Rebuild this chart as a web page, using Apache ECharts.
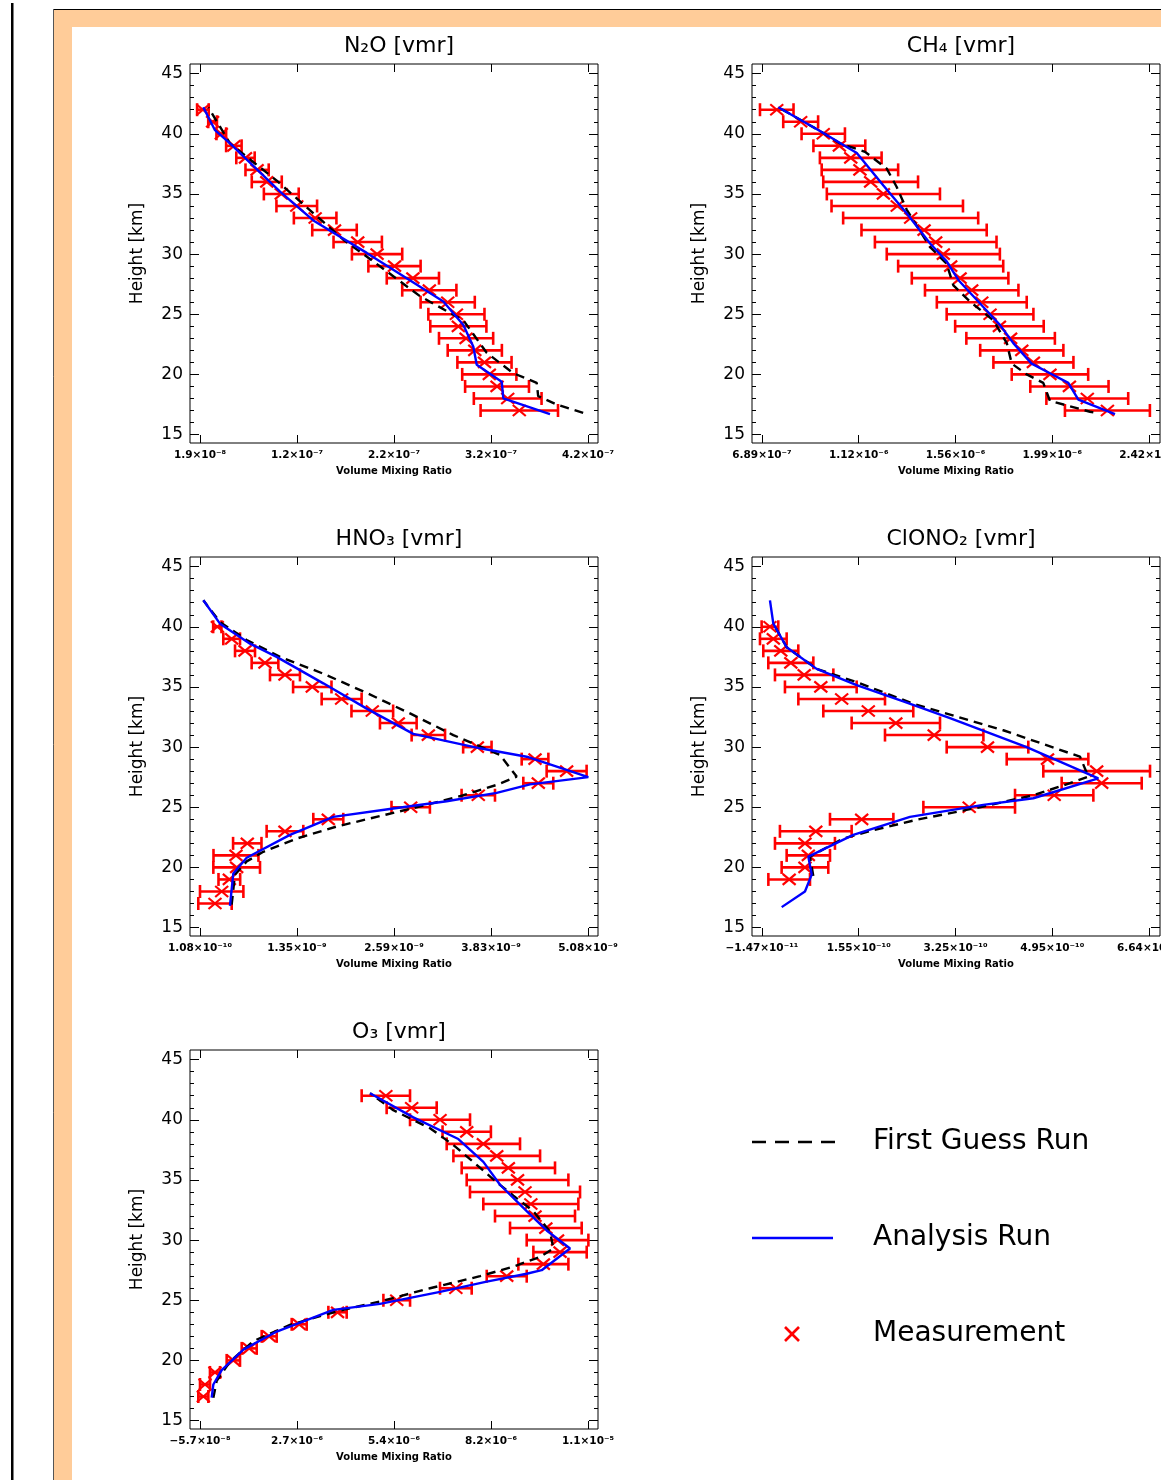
<!DOCTYPE html>
<html><head><meta charset="utf-8">
<script src="https://cdn.jsdelivr.net/npm/echarts@6/dist/echarts.min.js"></script>
<style>html,body{margin:0;padding:0;background:#fff;}#c{width:1161px;height:1480px;}</style>
</head><body><div id="c"></div>
<script>
// ---------------- DATA (values in units of 1e-9 vmr, heights in km) ----------------
const panelTitles = ['N₂O [vmr]', 'CH₄ [vmr]', 'HNO₃ [vmr]', 'ClONO₂ [vmr]', 'O₃ [vmr]'];
const yTicks = [15, 20, 25, 30, 35, 40, 45];
const yMinorTicks = [15,16,17,18,19,20,21,22,23,24,25,26,27,28,29,30,31,32,33,34,35,36,37,38,39,40,41,42,43,44,45];

const tickN2O = [19, 119.25, 219.5, 319.75, 420];
const labelN2O = ['1.9×10⁻⁸', '1.2×10⁻⁷', '2.2×10⁻⁷', '3.2×10⁻⁷', '4.2×10⁻⁷'];
const tickCH4 = [689, 1121.75, 1554.5, 1987.25, 2420];
const labelCH4 = ['6.89×10⁻⁷', '1.12×10⁻⁶', '1.56×10⁻⁶', '1.99×10⁻⁶', '2.42×10⁻⁶'];
const tickHNO3 = [0.108, 1.351, 2.594, 3.837, 5.08];
const labelHNO3 = ['1.08×10⁻¹⁰', '1.35×10⁻⁹', '2.59×10⁻⁹', '3.83×10⁻⁹', '5.08×10⁻⁹'];
const tickClONO2 = [-0.0147, 0.155, 0.3247, 0.4944, 0.6642];
const labelClONO2 = ['−1.47×10⁻¹¹', '1.55×10⁻¹⁰', '3.25×10⁻¹⁰', '4.95×10⁻¹⁰', '6.64×10⁻¹⁰'];
const tickO3 = [-57, 2707, 5471, 8236, 11000];
const labelO3 = ['−5.7×10⁻⁸', '2.7×10⁻⁶', '5.4×10⁻⁶', '8.2×10⁻⁶', '1.1×10⁻⁵'];

// N2O
const hN2O = [17,18,19,20,21,22,23,24,25,26,27,28,29,30,31,32,33,34,35,36,37,38,39,40,41,42];
const measN2O = [349,337,326,318,313,303,294,286,284,275,256,239,220,202,182,158,138,119,103,88,78,66,54,41,32,22];
const errN2O = [40,35,33,28,28,28,28,29,29,28,28,27,27,26,25,23,22,21,18,15.5,12,9.5,8,5,4.5,6];
const anN2O = [[380.7,16.7],[332.5,18.0],[330.8,19.4],[305,20.8],[301.5,22.3],[291.2,24.1],[270.5,26.06],[232.6,28.0],[191.3,30.1],[136.1,32.8],[101.7,35.2],[50,39.2],[34.5,40.3],[22.4,42.2]];
const fgN2O = [[415,16.8],[387.6,17.5],[368.5,18.2],[367,19.3],[342.8,20.1],[315.3,21.8],[291.2,24.5],[246.4,26.5],[194.7,29.6],[167.1,31.2],[98.3,36.1],[50,39.2],[27.6,42.2]];

// CH4
const hCH4 = [17,18,19,20,21,22,23,24,25,26,27,28,29,30,31,32,33,34,35,36,37,38,39,40,41,42];
const measCH4 = [2234,2144,2064,1977,1903,1851,1801,1751,1709,1672,1627,1575,1533,1500,1466,1414,1354,1294,1232,1175,1127,1086,1035,963,862,755];
const errCH4 = [190,183,175,171,179,186,198,198,194,201,209,216,235,253,272,280,302,294,253,212,171,138,116,97,78,75];
const anCH4 = [[2268,16.7],[2104,17.9],[2059,19.3],[1977,20.1],[1895,20.9],[1813,22.6],[1754,24.1],[1679,25.6],[1567,27.85],[1515,29.4],[1440,30.9],[1336,33.4],[1232,35.7],[1113,38.4],[956,40.15],[762,42.2]];
const fgCH4 = [[2171,16.85],[2156,16.9],[2067,17.35],[1977,17.8],[1947,19.3],[1873,20.0],[1806,20.9],[1784,22.6],[1724,24.5],[1619,26.05],[1545,27.4],[1515,29.2],[1440,30.6],[1336,33.7],[1291,35.6],[1247,37.1],[1150,38.5],[1038,39.2],[956,40.15],[762,42.2]];

// HNO3
const hHNO3 = [17,18,19,20,21,22,23,24,25,26,27,28,29,30,31,32,33,34,35,36,37,38,39,40];
const measHNO3 = [0.300,0.386,0.484,0.578,0.569,0.714,1.197,1.752,2.808,3.674,4.443,4.806,4.401,3.662,3.034,2.649,2.316,1.923,1.547,1.197,0.941,0.685,0.514,0.330];
const errHNO3 = [0.214,0.278,0.139,0.299,0.288,0.182,0.235,0.192,0.246,0.214,0.192,0.256,0.171,0.182,0.214,0.235,0.267,0.256,0.246,0.192,0.171,0.128,0.107,0.053];
const anHNO3 = [[0.492,16.8],[0.535,19.5],[0.706,20.8],[1.261,22.7],[1.816,24.2],[2.585,24.9],[3.269,25.5],[3.910,26.2],[4.337,26.9],[5.084,27.5],[4.294,29.2],[3.696,29.9],[2.841,31.1],[2.244,33.2],[1.688,35.3],[1.090,37.5],[0.749,38.6],[0.364,40.26],[0.151,42.2]];
const fgHNO3 = [[0.514,16.9],[0.556,19.4],[0.706,20.5],[0.919,21.3],[1.347,22.4],[1.860,23.4],[2.500,24.4],[3.013,25.2],[3.482,26.0],[3.910,26.86],[4.166,27.55],[3.952,29.35],[3.354,31.0],[2.799,32.8],[2.244,34.5],[1.688,36.1],[1.133,37.5],[0.706,38.9],[0.364,40.4],[0.151,42.2]];

// ClONO2
const hClONO2 = [19,20,21,22,23,24,25,26,27,28,29,30,31,32,33,34,35,36,37,38,39,40];
const measClONO2 = [0.0330,0.0607,0.0666,0.0607,0.0797,0.1602,0.3488,0.4979,0.5812,0.5724,0.4862,0.3809,0.2874,0.2201,0.1718,0.1251,0.0885,0.0593,0.0359,0.0183,0.0052,-0.0007];
const errClONO2 = [0.0365,0.0409,0.0380,0.0526,0.0629,0.0556,0.0804,0.0687,0.0702,0.0936,0.0716,0.0716,0.0863,0.0775,0.0789,0.0760,0.0629,0.0512,0.0395,0.0307,0.0234,0.0146];
const anClONO2 = [[0.0199,16.7],[0.0607,18.0],[0.0725,19.4],[0.0666,20.9],[0.1455,22.7],[0.2449,24.2],[0.3735,25.2],[0.4613,25.75],[0.5753,27.4],[0.4496,30.0],[0.3151,32.4],[0.2332,33.8],[0.1514,35.15],[0.0812,36.5],[0.0286,38.3],[0.0052,40.26],[-0.0007,42.2]];
const fgClONO2 = [[0.0753,19.3],[0.0695,20.9],[0.1279,22.4],[0.1806,23.1],[0.2567,23.96],[0.3735,25.06],[0.4613,26.0],[0.5256,27.0],[0.5578,27.55],[0.5432,29.2],[0.4086,31.4],[0.2507,33.6],[0.1572,35.3],[0.0812,36.5],[0.0286,38.3],[0.0052,40.26]];

// O3
const hO3 = [17,18,19,20,21,22,23,24,25,26,27,28,29,30,31,32,33,34,35,36,37,38,39,40,41,42];
const measO3 = [38,86,370,893,1345,1915,2770,3862,5549,7234,8684,9728,10203,10132,9799,9490,9371,9205,8992,8730,8399,8018,7544,6783,5975,5239];
const errO3 = [143,143,143,190,214,214,214,261,380,451,570,713,760,879,1021,1140,1354,1568,1449,1330,1235,1045,689,855,713,689];
const anO3 = [[276,16.9],[323,18.0],[561,19.2],[1178,20.9],[2129,22.4],[3742,24.2],[5073,24.7],[6783,25.7],[8114,26.55],[9253,27.2],[9681,27.5],[10488,29.3],[9823,30.8],[9253,32.4],[8493,34.6],[8018,36.5],[7305,38.4],[6022,40.2],[4788,42.2]];
const fgO3 = [[323,16.9],[419,18.3],[798,19.9],[1462,21.6],[2508,22.96],[3839,24.07],[5073,24.9],[6498,26.0],[7923,27.0],[8873,27.8],[9633,28.6],[10012,29.3],[9918,30.7],[9443,32.4],[8873,33.7],[8399,34.8],[7732,36.5],[7162,37.9],[6498,39.3],[5452,40.8],[4788,42.2]];

const legendNames = ['First Guess Run', 'Analysis Run', 'Measurement'];

// ---------------- LAYOUT ----------------
const FONT = "'DejaVu Sans', sans-serif";
const GW = 408, GH = 379, YMIN = 14.3, YMAX = 45.8;
const panels = [
  {left:190, top:64,   min:8.66,   max:430.34, ticks:tickN2O,    labels:labelN2O,    h:hN2O,    meas:measN2O,    err:errN2O,    an:anN2O,    fg:fgN2O},
  {left:752, top:64,   min:644.3,  max:2469.2, ticks:tickCH4,    labels:labelCH4,    h:hCH4,    meas:measCH4,    err:errCH4,    an:anCH4,    fg:fgCH4},
  {left:190, top:557,  min:-0.020, max:5.208,  ticks:tickHNO3,   labels:labelHNO3,   h:hHNO3,   meas:measHNO3,   err:errHNO3,   an:anHNO3,   fg:fgHNO3},
  {left:752, top:557,  min:-0.0322,max:0.6835, ticks:tickClONO2, labels:labelClONO2, h:hClONO2, meas:measClONO2, err:errClONO2, an:anClONO2, fg:fgClONO2},
  {left:190, top:1050, min:-342,   max:11285,  ticks:tickO3,     labels:labelO3,     h:hO3,     meas:measO3,     err:errO3,     an:anO3,     fg:fgO3}
];

const noLine = {show:false, onZero:false};
const grids = [], xAxes = [], yAxes = [], series = [], titles = [];
panels.forEach((p, i) => {
  grids.push({left:p.left, top:p.top, width:GW, height:GH, show:true, borderColor:'#000', borderWidth:1,
              backgroundColor:'transparent', containLabel:false, outerBoundsMode:'none'});
  titles.push({text: panelTitles[i], left: p.left + GW/2, top: p.top - 34, textAlign:'center',
               textStyle:{fontFamily:FONT, fontSize:22, fontWeight:'normal', color:'#000'}});
  const span = p.ticks[1] - p.ticks[0];
  const fmt = (val) => {
    for (let k = 0; k < p.ticks.length; k++) if (Math.abs(p.ticks[k] - val) < span * 1e-4) return p.labels[k];
    return '';
  };
  xAxes.push({gridIndex:i, type:'value', min:p.min, max:p.max, position:'bottom',
    axisLine:noLine, splitLine:{show:false},
    axisTick:{show:true, inside:true, length:8, customValues:p.ticks, lineStyle:{color:'#000', width:1}},
    axisLabel:{show:true, customValues:p.ticks, formatter:fmt, margin:7, color:'#000', fontSize:10.5, fontWeight:'bold', fontFamily:FONT},
    name:'Volume Mixing Ratio', nameLocation:'middle', nameGap:23,
    nameTextStyle:{color:'#000', fontSize:10, fontWeight:'bold', fontFamily:FONT}});
  xAxes.push({gridIndex:i, type:'value', min:p.min, max:p.max, position:'top',
    axisLine:noLine, splitLine:{show:false},
    axisTick:{show:true, inside:true, length:8, customValues:p.ticks, lineStyle:{color:'#000', width:1}},
    axisLabel:{show:false}});
  // left major
  yAxes.push({gridIndex:i, type:'value', min:YMIN, max:YMAX, position:'left',
    axisLine:noLine, splitLine:{show:false},
    axisTick:{show:true, inside:true, length:9, customValues:yTicks, lineStyle:{color:'#000', width:1}},
    axisLabel:{show:true, customValues:yTicks, margin:7, color:'#000', fontSize:17, fontFamily:FONT},
    name:'Height [km]', nameLocation:'middle', nameGap:44, nameRotate:90,
    nameTextStyle:{color:'#000', fontSize:17, fontFamily:FONT}});
  // left minor
  yAxes.push({gridIndex:i, type:'value', min:YMIN, max:YMAX, position:'left',
    axisLine:noLine, splitLine:{show:false},
    axisTick:{show:true, inside:true, length:4, customValues:yMinorTicks, lineStyle:{color:'#000', width:1}},
    axisLabel:{show:false}});
  // right major
  yAxes.push({gridIndex:i, type:'value', min:YMIN, max:YMAX, position:'right',
    axisLine:noLine, splitLine:{show:false},
    axisTick:{show:true, inside:true, length:9, customValues:yTicks, lineStyle:{color:'#000', width:1}},
    axisLabel:{show:false}});
  // right minor
  yAxes.push({gridIndex:i, type:'value', min:YMIN, max:YMAX, position:'right',
    axisLine:noLine, splitLine:{show:false},
    axisTick:{show:true, inside:true, length:4, customValues:yMinorTicks, lineStyle:{color:'#000', width:1}},
    axisLabel:{show:false}});

  const xi = 2*i, yi = 4*i;
  series.push({
    type:'custom', name: legendNames[2], xAxisIndex:xi, yAxisIndex:yi, coordinateSystem:'cartesian2d',
    encode:{x:0, y:1}, z:2,
    data: p.h.map((h, j) => [p.meas[j], h, p.err[j]]),
    renderItem: function (params, api) {
      const v = api.value(0), h = api.value(1), e = api.value(2);
      const c = api.coord([v, h]), lo = api.coord([v - e, h]), hi = api.coord([v + e, h]);
      const st = {stroke:'#ff0000', lineWidth:2.6};
      const cap = 6.5, cx = 6.5, cy = 5.5;
      return {type:'group', children:[
        {type:'line', shape:{x1:lo[0], y1:c[1], x2:hi[0], y2:c[1]}, style:st},
        {type:'line', shape:{x1:lo[0], y1:c[1]-cap, x2:lo[0], y2:c[1]+cap}, style:st},
        {type:'line', shape:{x1:hi[0], y1:c[1]-cap, x2:hi[0], y2:c[1]+cap}, style:st},
        {type:'line', shape:{x1:c[0]-cx, y1:c[1]-cy, x2:c[0]+cx, y2:c[1]+cy}, style:{stroke:'#ff0000', lineWidth:2.2}},
        {type:'line', shape:{x1:c[0]-cx, y1:c[1]+cy, x2:c[0]+cx, y2:c[1]-cy}, style:{stroke:'#ff0000', lineWidth:2.2}}
      ]};
    }
  });
  series.push({type:'line', name: legendNames[0], xAxisIndex:xi, yAxisIndex:yi, data:p.fg, showSymbol:false, symbol:'none', z:3,
    lineStyle:{color:'#000', width:2.4, type:[9,6]}});
  series.push({type:'line', name: legendNames[1], xAxisIndex:xi, yAxisIndex:yi, data:p.an, showSymbol:false, symbol:'none', z:4,
    lineStyle:{color:'#0000ff', width:2.4}});
});

const graphic = [
  {type:'rect', z:-100, shape:{x:11, y:3, width:2.5, height:1477}, style:{fill:'#000'}},
  {type:'rect', z:-100, shape:{x:53, y:9, width:1120, height:1480}, style:{fill:'#FFCC99'}},
  {type:'rect', z:-99, shape:{x:72, y:27, width:1100, height:1460}, style:{fill:'#ffffff'}},
  {type:'line', z:-98, shape:{x1:53, y1:9.5, x2:1161, y2:9.5}, style:{stroke:'#000', lineWidth:1}},
  {type:'line', z:-98, shape:{x1:53.5, y1:9, x2:53.5, y2:1480}, style:{stroke:'#555', lineWidth:1}},
  // legend
  {type:'line', shape:{x1:752, y1:1142, x2:836, y2:1142}, style:{stroke:'#000', lineWidth:2.6, lineDash:[14,9]}},
  {type:'text', x:873, y:1142, style:{text:legendNames[0], fontFamily:FONT, fontSize:28, fill:'#000', verticalAlign:'middle', align:'left'}},
  {type:'line', shape:{x1:752, y1:1238, x2:833, y2:1238}, style:{stroke:'#0000ff', lineWidth:2.6}},
  {type:'text', x:873, y:1238, style:{text:legendNames[1], fontFamily:FONT, fontSize:28, fill:'#000', verticalAlign:'middle', align:'left'}},
  {type:'line', shape:{x1:785, y1:1327, x2:799, y2:1341}, style:{stroke:'#ff0000', lineWidth:2.6}},
  {type:'line', shape:{x1:785, y1:1341, x2:799, y2:1327}, style:{stroke:'#ff0000', lineWidth:2.6}},
  {type:'text', x:873, y:1334, style:{text:legendNames[2], fontFamily:FONT, fontSize:28, fill:'#000', verticalAlign:'middle', align:'left'}}
];

const chart = echarts.init(document.getElementById('c'), null, {renderer:'canvas'});
chart.setOption({
  animation:false,
  backgroundColor:'#ffffff',
  title: titles,
  grid: grids,
  xAxis: xAxes,
  yAxis: yAxes,
  series: series,
  graphic: graphic
});
</script>
</body></html>
